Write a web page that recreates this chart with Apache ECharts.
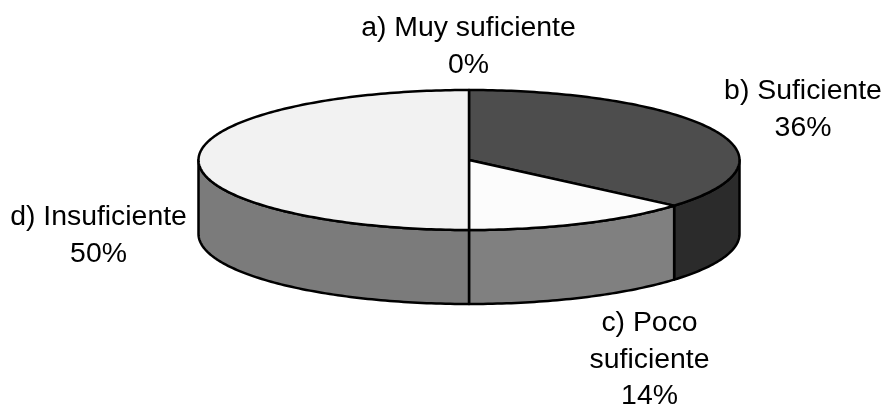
<!DOCTYPE html>
<html>
<head>
<meta charset="utf-8">
<script src="https://cdn.jsdelivr.net/npm/echarts@6/dist/echarts.min.js"></script>
<style>
html,body{margin:0;padding:0;background:#fff}
#chart{width:886px;height:407px}
</style>
</head>
<body>
<div id="chart"></div>
<script>
const categories = ["a) Muy suficiente", "b) Suficiente", "c) Poco\nsuficiente", "d) Insuficiente"]
const percents = [0, 36.3, 13.7, 50]
const topColors = ["#ffffff", "#4d4d4d", "#fcfcfc", "#f2f2f2"]
const sideColors = ["#ffffff", "#2b2b2b", "#808080", "#7b7b7b"]
// label centers, layout only
const labelX = [468.5, 803, 649.5, 98.5]
const labelY = [46.5, 109.5, 360, 235.5]

const cx = 469, cy = 160, rx = 270.5, ry = 70, depth = 74

// cumulative start / end in degrees, clockwise from the top of the ellipse
let sum = 0
const total = percents.reduce((a, b) => a + b, 0)
const rows = percents.map((p, i) => {
    const start = sum / total * 360
    sum += p
    return [i, start, sum / total * 360]
})

function rim(deg, dy) {
    const t = (deg - 90) * Math.PI / 180
    return [cx + rx * Math.cos(t), cy + dy + ry * Math.sin(t)]
}

function renderSide(params, api) {
    const i = api.value(0)
    // only the front half of the wall can be seen (90..270 from the top)
    const a = Math.max(api.value(1), 90), b = Math.min(api.value(2), 270)
    if (percents[i] === 0 || b <= a) return null
    const pts = []
    for (let d = a; d < b; d += 1) pts.push(rim(d, 0))
    pts.push(rim(b, 0))
    for (let d = b; d > a; d -= 1) pts.push(rim(d, depth))
    pts.push(rim(a, depth))
    return {
        type: 'polygon',
        shape: {points: pts},
        style: {fill: sideColors[i], stroke: '#000', lineWidth: 2.5, lineJoin: 'round'}
    }
}

function renderTop(params, api) {
    const i = api.value(0)
    const a = api.value(1), b = api.value(2)
    const children = []
    if (percents[i] > 0) {
        const pts = [[cx, cy]]
        for (let d = a; d < b; d += 1) pts.push(rim(d, 0))
        pts.push(rim(b, 0))
        children.push({
            type: 'polygon',
            shape: {points: pts},
            style: {fill: topColors[i], stroke: '#000', lineWidth: 2.5, lineJoin: 'round'}
        })
    }
    children.push({
        type: 'text',
        style: {
            x: labelX[i],
            y: labelY[i],
            text: categories[i] + '\n' + Math.round(percents[i]) + '%',
            fill: '#000',
            font: '28.4px "Liberation Sans"',
            lineHeight: 36.5,
            align: 'center',
            verticalAlign: 'middle'
        }
    })
    return {type: 'group', children: children}
}

const chart = echarts.init(document.getElementById('chart'))
chart.setOption({
    animation: false,
    backgroundColor: '#fff',
    series: [
        {type: 'custom', coordinateSystem: 'none', renderItem: renderSide, data: rows, silent: true},
        {type: 'custom', coordinateSystem: 'none', renderItem: renderTop, data: rows, silent: true}
    ]
})
</script>
</body>
</html>
